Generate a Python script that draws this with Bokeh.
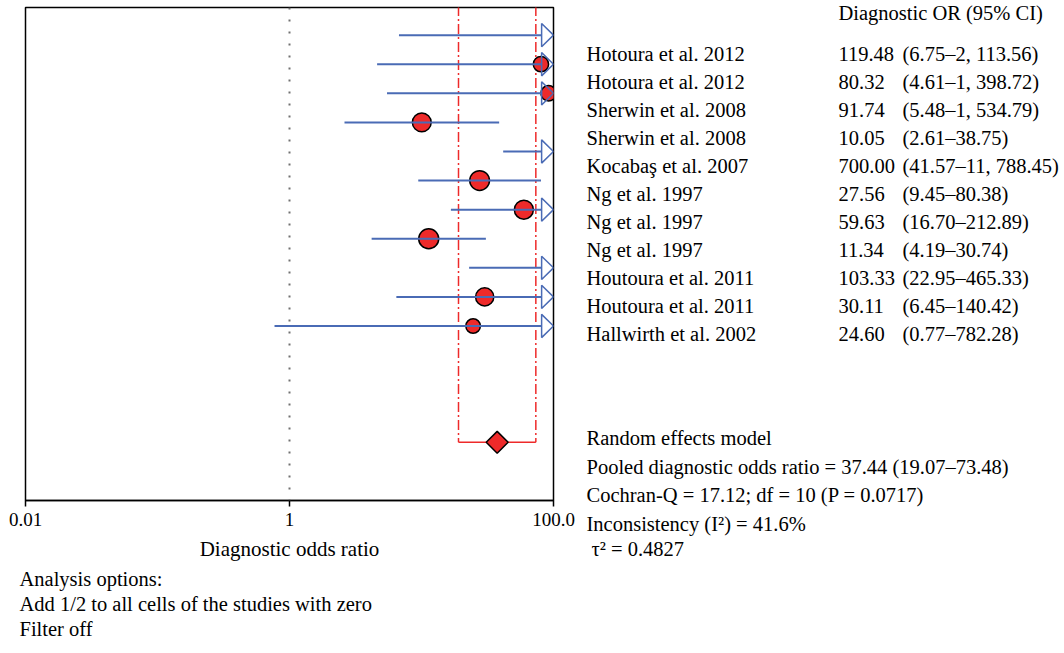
import numpy as np
from bokeh.plotting import figure
from bokeh.layouts import row, column
from bokeh.models import Range1d, FixedTicker, Span
from bokeh.core.properties import value
from bokeh.embed import file_html
from bokeh.resources import INLINE

# ---------------- data ----------------
studies = ["Hotoura et al. 2012", "Hotoura et al. 2012", "Sherwin et al. 2008",
           "Sherwin et al. 2008", "Kocabaş et al. 2007", "Ng et al. 1997",
           "Ng et al. 1997", "Ng et al. 1997", "Houtoura et al. 2011",
           "Houtoura et al. 2011", "Hallwirth et al. 2002"]
dor = [119.48, 80.32, 91.74, 10.05, 700.00, 27.56, 59.63, 11.34, 103.33, 30.11, 24.60]
ci_lo = [6.75, 4.61, 5.48, 2.61, 41.57, 9.45, 16.70, 4.19, 22.95, 6.45, 0.77]
ci_hi = [2113.56, 1398.72, 1534.79, 38.75, 11788.45, 80.38, 212.89, 30.74, 465.33, 140.42, 782.28]
weights = [4.5, 4.5, 4.6, 12.4, 4.6, 15.2, 13.1, 16.0, 11.0, 10.8, 3.3]  # relative weight (%)
pooled = 37.44
pooled_lo = 19.07
pooled_hi = 73.48
ticks = [0.01, 1, 100]
tick_labels = ["0.01", "1", "100.0"]
summary_lines = ["Random effects model",
                 "Pooled diagnostic odds ratio = 37.44 (19.07–73.48)",
                 "Cochran-Q = 17.12; df = 10 (P =  0.0717)",
                 "Inconsistency (I²) = 41.6%",
                 "τ² = 0.4827"]
option_lines = ["Analysis options:",
                "Add 1/2 to all cells of the studies with zero",
                "Filter off"]

# ---------------- styling ----------------
FONT = "Liberation Serif"
FS = "20.5px"
BLUE = "#4a6bb5"
RED = "#ee2a2a"
XMIN, XMAX = ticks[0], ticks[-1]

TOTAL_W, TOTAL_H = 1064, 653
A_W, TOP_H = 580, 565

# ---------------- forest plot ----------------
p = figure(width=A_W, height=TOP_H, x_axis_type="log",
           x_range=Range1d(XMIN, XMAX), y_range=Range1d(17, 0.05),
           y_axis_location=None, output_backend="svg", toolbar_location=None,
           min_border_left=25, min_border_right=A_W - 553, min_border_top=7,
           min_border_bottom=TOP_H - 500)
p.frame_align = False
p.xgrid.visible = False
p.ygrid.visible = False
p.outline_line_color = "black"
p.outline_line_width = 1.5
p.background_fill_color = "white"
p.border_fill_color = "white"

ax = p.xaxis[0]
ax.ticker = FixedTicker(ticks=ticks, minor_ticks=[])
ax.major_label_overrides = dict(zip(ticks, tick_labels))
ax.major_tick_in = 0
ax.major_tick_out = 6
ax.minor_tick_in = 0
ax.minor_tick_out = 0
ax.axis_line_color = "black"
ax.axis_line_width = 1.5
ax.major_tick_line_color = "black"
ax.major_tick_line_width = 1.5
ax.major_label_text_font = FONT
ax.major_label_text_font_size = "19px"
ax.major_label_text_color = "black"
ax.major_label_standoff = 6
ax.axis_label = "Diagnostic odds ratio"
ax.axis_label_text_font = FONT
ax.axis_label_text_font_size = "21px"
ax.axis_label_text_font_style = "normal"
ax.axis_label_text_color = "black"
ax.axis_label_standoff = 8

p.add_layout(Span(location=1, dimension="height", line_color="#707070",
                  line_width=2, line_dash="2 10"))

n = len(studies)
rows = list(range(1, n + 1))
pooled_row = n + 4

p.segment(x0=[pooled_lo, pooled_hi], y0=[0, 0], x1=[pooled_lo, pooled_hi],
          y1=[pooled_row, pooled_row], line_color=RED, line_width=1.5, line_dash="10 3 2 3")
p.segment(x0=[pooled_lo], y0=[pooled_row], x1=[pooled_hi], y1=[pooled_row],
          line_color=RED, line_width=1.5)

wmax = max(weights)
sizes = [10 + 10 * np.sqrt(w / wmax) for w in weights]
in_rng = [i for i in range(n) if dor[i] <= XMAX]
p.scatter(x=[dor[i] for i in in_rng], y=[rows[i] for i in in_rng],
          size=[sizes[i] for i in in_rng], marker="circle",
          fill_color=RED, line_color="black", line_width=1.5)

arrow_base = 10 ** (np.log10(XMAX) - 0.09)
x1 = [min(h, arrow_base) if h > XMAX else h for h in ci_hi]
p.segment(x0=ci_lo, y0=rows, x1=x1, y1=rows, line_color=BLUE, line_width=2)

xs, ys = [], []
for i in range(n):
    if ci_hi[i] > XMAX:
        xs.append([arrow_base, arrow_base, XMAX])
        ys.append([rows[i] - 0.4, rows[i] + 0.4, rows[i]])
p.patches(xs=xs, ys=ys, fill_color=None, line_color=BLUE, line_width=1.5)

p.scatter(x=[pooled], y=[pooled_row], marker="square", angle=np.pi / 4, size=15.5,
          fill_color=RED, line_color="black", line_width=1.5)


# ---------------- text panels ----------------
def text_panel(w, h, x0, y0):
    t = figure(width=w, height=h, x_range=Range1d(x0, x0 + w), y_range=Range1d(y0 + h, y0),
               x_axis_location=None, y_axis_location=None, output_backend="svg",
               toolbar_location=None, min_border=0)
    t.frame_align = False
    t.xgrid.visible = False
    t.ygrid.visible = False
    t.outline_line_color = None
    t.background_fill_color = "white"
    t.border_fill_color = "white"
    return t


def put(fig, xs_, ys_, texts):
    fig.text(x=xs_, y=ys_, text=texts, text_align="left", text_baseline="middle",
             text_font=value(FONT), text_font_size=value(FS), text_color="black")


def fmt(v):
    return f"{v:,.2f}".replace(",", ", ")


b = text_panel(TOTAL_W - A_W, TOP_H, A_W, 0)
ys_rows = [53 + 28.0 * i for i in range(n)]
put(b, [838], [12], ["Diagnostic OR (95% CI)"])
put(b, [586] * n, ys_rows, studies)
put(b, [838] * n, ys_rows, [f"{v:.2f}" for v in dor])
put(b, [902] * n, ys_rows, [f"({fmt(l)}–{fmt(h)})" for l, h in zip(ci_lo, ci_hi)])
put(b, [586, 586, 586, 586, 591], [437, 466, 494.5, 523, 548], summary_lines)

c = text_panel(TOTAL_W, TOTAL_H - TOP_H, 0, TOP_H)
put(c, [19] * 3, [578 + 25.0 * j for j in range(3)], option_lines)

layout = column(row(p, b, spacing=0), c, spacing=0)
open("out.html", "w").write(file_html(layout, INLINE))
